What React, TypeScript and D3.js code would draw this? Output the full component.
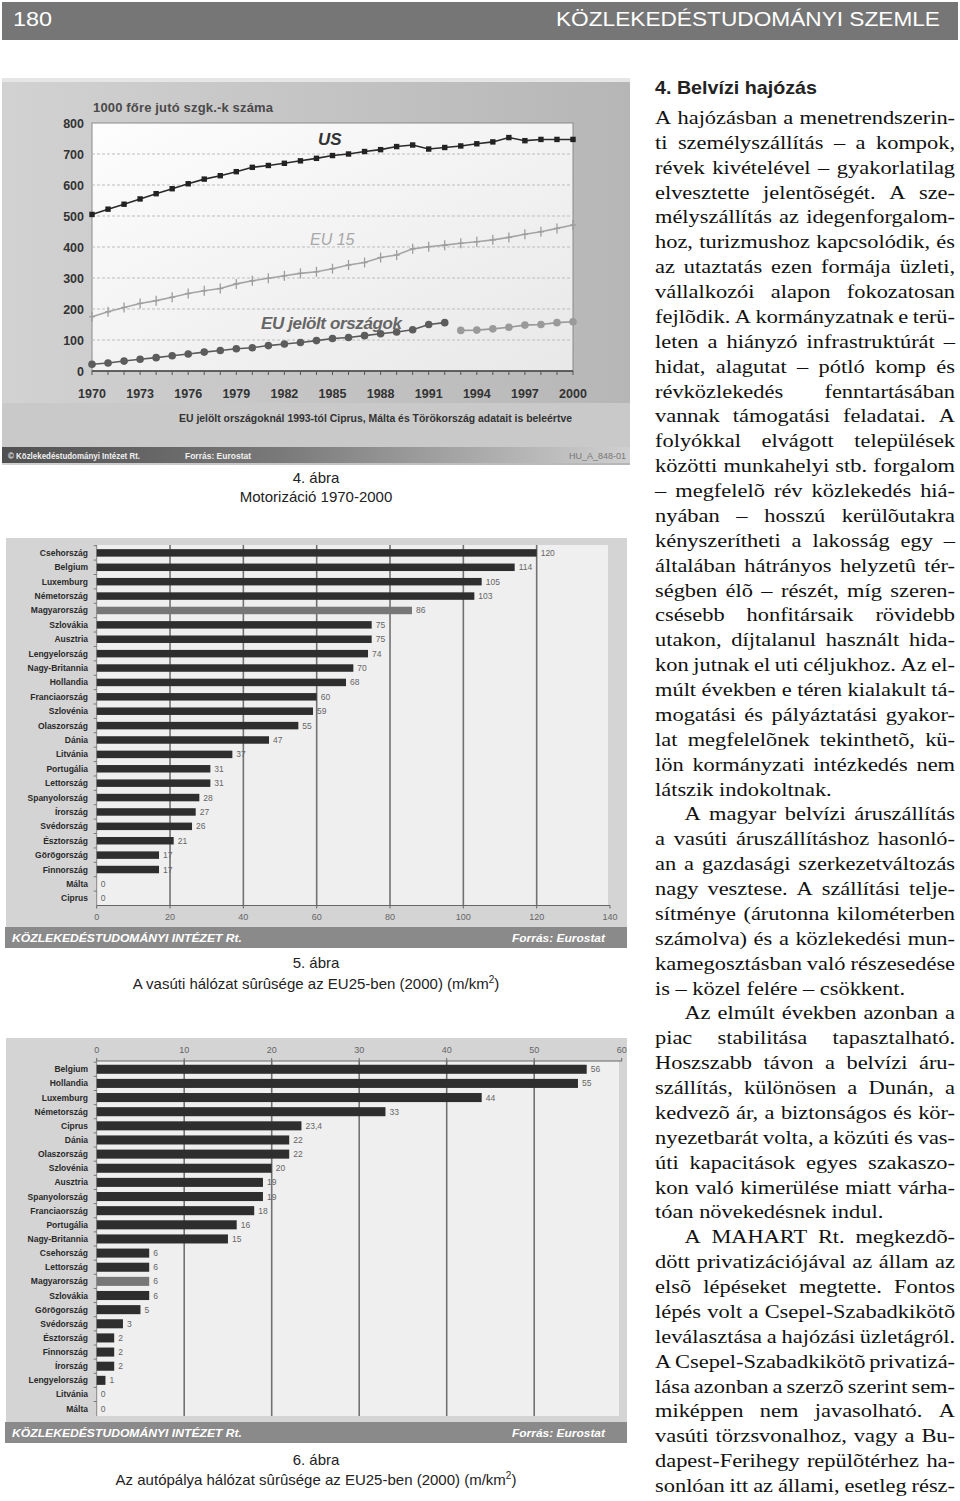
import React from 'react';
import * as d3 from 'd3';

// ---------- Chart 4 data (Motorizáció) ----------
const years = [1970,1971,1972,1973,1974,1975,1976,1977,1978,1979,1980,1981,1982,1983,1984,1985,1986,1987,1988,1989,1990,1991,1992,1993,1994,1995,1996,1997,1998,1999,2000];
const usValues = [505,522,538,555,572,588,604,619,630,643,657,663,670,678,686,695,700,708,714,724,729,716,721,726,733,739,753,743,747,747,747];
const eu15Values = [175,191,205,218,227,238,250,259,266,281,291,299,307,315,320,330,342,350,366,374,394,401,406,412,417,423,431,441,449,460,471];
const candYearsA = [1970,1971,1972,1973,1974,1975,1976,1977,1978,1979,1980,1981,1982,1983,1984,1985,1986,1987,1988,1989,1990,1991,1992];
const candValuesA = [22,26,32,38,43,49,55,61,66,72,75,82,87,92,98,105,108,114,120,126,133,150,156];
const candYearsB = [1993,1994,1995,1996,1997,1998,1999,2000];
const candValuesB = [131,132,136,141,148,150,156,159];
const yTicks4 = [0,100,200,300,400,500,600,700,800];
const gridTicks4 = [100,200,300,400,500,600,700];
const xTickYears4 = [1970,1973,1976,1979,1982,1985,1988,1991,1994,1997,2000];

// ---------- Chart 5 data (vasúti hálózat) ----------
const railCountries = ['Csehország','Belgium','Luxemburg','Németország','Magyarország','Szlovákia','Ausztria','Lengyelország','Nagy-Britannia','Hollandia','Franciaország','Szlovénia','Olaszország','Dánia','Litvánia','Portugália','Lettország','Spanyolország','Írország','Svédország','Észtország','Görögország','Finnország','Málta','Ciprus'];
const railValues = [120,114,105,103,86,75,75,74,70,68,60,59,55,47,37,31,31,28,27,26,21,17,17,0,0];
const railTicks = [0,20,40,60,80,100,120,140];

// ---------- Chart 6 data (autópálya hálózat) ----------
const mwCountries = ['Belgium','Hollandia','Luxemburg','Németország','Ciprus','Dánia','Olaszország','Szlovénia','Ausztria','Spanyolország','Franciaország','Portugália','Nagy-Britannia','Csehország','Lettország','Magyarország','Szlovákia','Görögország','Svédország','Észtország','Finnország','Írország','Lengyelország','Litvánia','Málta'];
const mwValues = [56,55,44,33,23.4,22,22,20,19,19,18,16,15,6,6,6,6,5,3,2,2,2,1,0,0];
const mwTicks = [0,10,20,30,40,50,60];

// ---------- Text column ----------
const bodyLines = [
  'A hajózásban a menetrendszerin-',
  'ti személyszállítás – a kompok,',
  'révek kivételével – gyakorlatilag',
  'elvesztette jelentõségét. A sze-',
  'mélyszállítás az idegenforgalom-',
  'hoz, turizmushoz kapcsolódik, és',
  'az utaztatás ezen formája üzleti,',
  'vállalkozói alapon fokozatosan',
  'fejlõdik. A kormányzatnak e terü-',
  'leten a hiányzó infrastruktúrát –',
  'hidat, alagutat – pótló komp és',
  'révközlekedés fenntartásában',
  'vannak támogatási feladatai. A',
  'folyókkal elvágott települések',
  'közötti munkahelyi stb. forgalom',
  '– megfelelõ rév közlekedés hiá-',
  'nyában – hosszú kerülõutakra',
  'kényszerítheti a lakosság egy –',
  'általában hátrányos helyzetû tér-',
  'ségben élõ – részét, míg szeren-',
  'csésebb honfitársaik rövidebb',
  'utakon, díjtalanul használt hida-',
  'kon jutnak el uti céljukhoz. Az el-',
  'múlt években e téren kialakult tá-',
  'mogatási és pályáztatási gyakor-',
  'lat megfelelõnek tekinthetõ, kü-',
  'lön kormányzati intézkedés nem',
  'látszik indokoltnak.',
  'A magyar belvízi áruszállítás',
  'a vasúti áruszállításhoz hasonló-',
  'an a gazdasági szerkezetváltozás',
  'nagy vesztese. A szállítási telje-',
  'sítménye (árutonna kilométerben',
  'számolva) és a közlekedési mun-',
  'kamegosztásban való részesedése',
  'is – közel felére – csökkent.',
  'Az elmúlt években azonban a',
  'piac stabilitása tapasztalható.',
  'Hoszszabb távon a belvízi áru-',
  'szállítás, különösen a Dunán, a',
  'kedvezõ ár, a biztonságos és kör-',
  'nyezetbarát volta, a közúti és vas-',
  'úti kapacitások egyes szakaszo-',
  'kon való kimerülése miatt várha-',
  'tóan növekedésnek indul.',
  'A MAHART Rt. megkezdõ-',
  'dött privatizációjával az állam az',
  'elsõ lépéseket megtette. Fontos',
  'lépés volt a Csepel-Szabadkikötõ',
  'leválasztása a hajózási üzletágról.',
  'A Csepel-Szabadkikötõ privatizá-',
  'lása azonban a szerzõ szerint sem-',
  'miképpen nem javasolható. A',
  'vasúti törzsvonalhoz, vagy a Bu-',
  'dapest-Ferihegy repülõtérhez ha-',
  'sonlóan itt az állami, esetleg rész-',
];
const paraStarts = [28, 36, 45];
const paraEnds = [27, 35, 44];

const SANS = 'Arial, "Liberation Sans", Helvetica, sans-serif';
const SERIF = '"Liberation Serif", "Times New Roman", serif';
const TXT_FS = 18.3;
const TXT_SX = 1.225;
const COL_W = 300 / TXT_SX;
const INDENT = 24;

let ctx: CanvasRenderingContext2D | null = null;
function measure(s: string): number {
  if (!ctx) ctx = document.createElement('canvas').getContext('2d');
  if (!ctx) return s.length * TXT_FS * 0.45;
  ctx.font = `${TXT_FS}px "Liberation Serif"`;
  return ctx.measureText(s).width;
}

function LineChart() {
  const x = d3.scaleLinear().domain([1970, 2000]).range([92, 573]);
  const y = d3.scaleLinear().domain([0, 800]).range([371, 123]);
  const line = d3.line<[number, number]>().x(d => x(d[0])).y(d => y(d[1]));
  const us = years.map((yr, i) => [yr, usValues[i]] as [number, number]);
  const eu = years.map((yr, i) => [yr, eu15Values[i]] as [number, number]);
  const ca = candYearsA.map((yr, i) => [yr, candValuesA[i]] as [number, number]);
  const cb = candYearsB.map((yr, i) => [yr, candValuesB[i]] as [number, number]);
  return (
    <g>
      <defs>
        <linearGradient id="bg4" x1="0" x2="1" y1="0" y2="0">
          <stop offset="0" stopColor="#d2d2d2" />
          <stop offset="1" stopColor="#b6b6b6" />
        </linearGradient>
        <linearGradient id="plot4" x1="0" x2="1" y1="0" y2="1">
          <stop offset="0" stopColor="#fdfdfd" />
          <stop offset="1" stopColor="#e8e8e8" />
        </linearGradient>
        <linearGradient id="band4" x1="0" x2="1" y1="0" y2="0">
          <stop offset="0" stopColor="#505050" />
          <stop offset="0.45" stopColor="#7a7a7a" />
          <stop offset="1" stopColor="#d0d0d0" />
        </linearGradient>
      </defs>
      <rect x={2} y={78} width={628} height={387} fill="url(#bg4)" />
      <rect x={2} y={78} width={628} height={4} fill="#e6e6e6" />
      <rect x={2} y={403} width={628} height={44} fill="#c9c9c9" />
      <rect x={2} y={447} width={628} height={16} fill="url(#band4)" />
      <rect x={x(1970)} y={y(800)} width={x(2000) - x(1970)} height={y(0) - y(800)} fill="url(#plot4)" stroke="#8a8a8a" strokeWidth={1} />
      <text x={93} y={112} fontFamily={SANS} fontWeight="bold" fontSize={13} fill="#4a4a4a" textLength={180}>1000 főre jutó szgk.-k száma</text>
      {gridTicks4.map(t => (
        <line key={t} x1={x(1970)} x2={x(2000)} y1={y(t)} y2={y(t)} stroke="#bdbdbd" strokeWidth={1} strokeDasharray="3,2" />
      ))}
      {yTicks4.map(t => (
        <text key={t} x={84} y={y(t) + 4.5} textAnchor="end" fontFamily={SANS} fontWeight="bold" fontSize={12.5} fill="#333">{t}</text>
      ))}
      <line x1={x(1970)} x2={x(2000)} y1={y(0)} y2={y(0)} stroke="#444" strokeWidth={1.5} />
      {years.map(yr => (
        <line key={yr} x1={x(yr)} x2={x(yr)} y1={y(0)} y2={y(0) + 4} stroke="#555" strokeWidth={1} />
      ))}
      {xTickYears4.map(yr => (
        <text key={yr} x={x(yr)} y={398} textAnchor="middle" fontFamily={SANS} fontWeight="bold" fontSize={12.5} fill="#333">{yr}</text>
      ))}
      {/* EU 15 */}
      <path d={line(eu) || ''} fill="none" stroke="#a5a5a5" strokeWidth={1.6} />
      {eu.map(d => (
        <g key={d[0]} stroke="#9d9d9d" strokeWidth={1.3}>
          <line x1={x(d[0])} x2={x(d[0])} y1={y(d[1]) - 5} y2={y(d[1]) + 5} />
          <line x1={x(d[0]) - 3} x2={x(d[0]) + 3} y1={y(d[1])} y2={y(d[1])} />
        </g>
      ))}
      {/* US */}
      <path d={line(us) || ''} fill="none" stroke="#2a2a2a" strokeWidth={1.6} />
      {us.map(d => (
        <rect key={d[0]} x={x(d[0]) - 2.7} y={y(d[1]) - 2.7} width={5.4} height={5.4} fill="#222" />
      ))}
      {/* EU candidates */}
      <path d={line(ca) || ''} fill="none" stroke="#5a5a5a" strokeWidth={1.6} />
      {ca.map(d => (
        <circle key={d[0]} cx={x(d[0])} cy={y(d[1])} r={3.8} fill="#5c5c5c" />
      ))}
      <path d={line(cb) || ''} fill="none" stroke="#999" strokeWidth={1.6} />
      {cb.map(d => (
        <circle key={d[0]} cx={x(d[0])} cy={y(d[1])} r={3.8} fill="#9a9a9a" />
      ))}
      <text x={318} y={145} fontFamily={SANS} fontWeight="bold" fontStyle="italic" fontSize={17} fill="#333">US</text>
      <text x={310} y={245} fontFamily={SANS} fontStyle="italic" fontSize={16} fill="#a8a8a8">EU 15</text>
      <text x={261} y={329} fontFamily={SANS} fontWeight="bold" fontStyle="italic" fontSize={17} fill="#666" textLength={141}>EU jelölt országok</text>
      <text x={179} y={422} fontFamily={SANS} fontWeight="bold" fontSize={10} fill="#333" textLength={393} lengthAdjust="spacingAndGlyphs">EU jelölt országoknál 1993-tól Ciprus, Málta és Törökország adatait is beleértve</text>
      <text x={8} y={459} fontFamily={SANS} fontWeight="bold" fontSize={9} fill="#f0f0f0" textLength={132} lengthAdjust="spacingAndGlyphs">© Közlekedéstudományi Intézet Rt.</text>
      <text x={185} y={459} fontFamily={SANS} fontWeight="bold" fontSize={9} fill="#f0f0f0" textLength={66} lengthAdjust="spacingAndGlyphs">Forrás: Eurostat</text>
      <text x={626} y={459} textAnchor="end" fontFamily={SANS} fontSize={9} fill="#777">HU_A_848-01</text>
    </g>
  );
}

type BarProps = {
  countries: string[]; values: number[]; ticks: number[]; domainMax: number;
  top: number; bottom: number; xRight: number; plotRight: number; bandTop: number;
  rangeStart: number; rangeEnd: number; padding: number; topAxis: boolean; fmt: (v: number) => string;
};

function BarChart(p: BarProps) {
  const x = d3.scaleLinear().domain([0, p.domainMax]).range([96.7, p.xRight]);
  const y = d3.scaleBand<string>().domain(p.countries).range([p.rangeStart, p.rangeEnd]).paddingInner(p.padding).paddingOuter(p.padding / 2);
  const bw = y.bandwidth();
  const axisY = p.topAxis ? p.top : p.bottom;
  const panelTop = p.top - (p.topAxis ? 23 : 7);
  return (
    <g>
      <rect x={6} y={panelTop} width={621} height={p.bandTop - panelTop} fill="#d4d4d4" />
      <rect x={97} y={p.top} width={p.plotRight - 97} height={p.bottom - p.top} fill="#efefef" />
      {p.ticks.filter(t => t > 0 && t < p.domainMax).map(t => (
        <line key={t} x1={x(t)} x2={x(t)} y1={p.top} y2={p.bottom} stroke="#727272" strokeWidth={1.6} />
      ))}
      <line x1={x(0)} x2={x(p.domainMax)} y1={axisY} y2={axisY} stroke="#666" strokeWidth={1.2} />
      <line x1={x(0)} x2={x(0)} y1={p.top} y2={p.bottom} stroke="#888" strokeWidth={1} />
      {p.ticks.map(t => (
        <g key={t}>
          <line x1={x(t)} x2={x(t)} y1={axisY} y2={axisY + (p.topAxis ? -3 : 3)} stroke="#666" />
          <text x={x(t)} y={p.topAxis ? p.top - 8 : p.bottom + 14} textAnchor="middle" fontFamily={SANS} fontSize={9} fill="#666">{t}</text>
        </g>
      ))}
      {p.countries.map((c, i) => {
        const yy = y(c) as number;
        return (
          <g key={c}>
            <line x1={x(0) - 3} x2={x(0)} y1={yy - (y.step() - bw) / 2} y2={yy - (y.step() - bw) / 2} stroke="#777" />
            <text x={88} y={yy + bw / 2 + 3} textAnchor="end" fontFamily={SANS} fontWeight="bold" fontSize={8.5} fill="#2a2a2a">{c}</text>
            <rect x={x(0)} y={yy} width={Math.max(0, x(p.values[i]) - x(0))} height={bw} fill={c === 'Magyarország' ? '#777' : '#2e2e2e'} />
            <text x={x(p.values[i]) + 4} y={yy + bw / 2 + 3} fontFamily={SANS} fontSize={8.5} fill="#666">{p.fmt(p.values[i])}</text>
          </g>
        );
      })}
      <rect x={5} y={p.bandTop} width={622} height={21} fill="#8a8a8a" />
      <text x={12} y={p.bandTop + 15} fontFamily={SANS} fontWeight="bold" fontStyle="italic" fontSize={11} fill="#fff" textLength={230} lengthAdjust="spacingAndGlyphs">KÖZLEKEDÉSTUDOMÁNYI INTÉZET Rt.</text>
      <text x={512} y={p.bandTop + 15} fontFamily={SANS} fontWeight="bold" fontStyle="italic" fontSize={11} fill="#fff" textLength={93} lengthAdjust="spacingAndGlyphs">Forrás: Eurostat</text>
    </g>
  );
}

function TextColumn() {
  const yLine = d3.scaleLinear().domain([0, bodyLines.length - 1]).range([124, 1492]);
  const space = measure(' ');
  return (
    <g>
      <text x={655} y={94} fontFamily={SANS} fontWeight="bold" fontSize={19} fill="#222" textLength={162} lengthAdjust="spacingAndGlyphs">4. Belvízi hajózás</text>
      <g transform={`translate(655,0) scale(${TXT_SX},1)`}>
        {bodyLines.map((t, i) => {
          const indent = paraStarts.includes(i) ? INDENT : 0;
          const justify = !paraEnds.includes(i);
          const words = t.split(' ');
          const widths = words.map(w => measure(w));
          const sum = d3.sum(widths);
          const gap = justify && words.length > 1 ? (COL_W - indent - sum) / (words.length - 1) : space;
          let cx = indent;
          const xs = widths.map(w => { const v = cx; cx += w + gap; return v; });
          return (
            <text key={i} y={yLine(i)} fontFamily={SERIF} fontSize={TXT_FS} fill="#111">
              {words.map((w, j) => <tspan key={j} x={xs[j]}>{w}</tspan>)}
            </text>
          );
        })}
      </g>
    </g>
  );
}

export default function App() {
  return (
    <svg width={960} height={1501} viewBox="0 0 960 1501" style={{ position: 'absolute', left: 0, top: 0, background: '#fff' }}>
      <rect x={0} y={0} width={960} height={1501} fill="#fff" />
      <rect x={2} y={2} width={956} height={38} fill="#767676" />
      <text x={13} y={26} fontFamily={SANS} fontSize={20} fill="#fff" textLength={39} lengthAdjust="spacingAndGlyphs">180</text>
      <text x={556} y={26} fontFamily={SANS} fontSize={20} fill="#fff" textLength={384} lengthAdjust="spacingAndGlyphs">KÖZLEKEDÉSTUDOMÁNYI SZEMLE</text>
      <LineChart />
      <text x={316} y={483} textAnchor="middle" fontFamily={SANS} fontSize={15} fill="#222">4. ábra</text>
      <text x={316} y={502} textAnchor="middle" fontFamily={SANS} fontSize={15} fill="#222">Motorizáció 1970-2000</text>
      <BarChart countries={railCountries} values={railValues} ticks={railTicks} domainMax={140}
        top={545} bottom={905.5} xRight={610} plotRight={608} bandTop={927}
        rangeStart={545.7} rangeEnd={905.5} padding={0.48} topAxis={false} fmt={v => String(v)} />
      <text x={316} y={968} textAnchor="middle" fontFamily={SANS} fontSize={15} fill="#222">5. ábra</text>
      <text x={316} y={989} textAnchor="middle" fontFamily={SANS} fontSize={15} fill="#222">A vasúti hálózat sûrûsége az EU25-ben (2000) (m/km<tspan dy={-6} fontSize={10}>2</tspan><tspan dy={6}>)</tspan></text>
      <BarChart countries={mwCountries} values={mwValues} ticks={mwTicks} domainMax={60}
        top={1061} bottom={1416} xRight={621.7} plotRight={619} bandTop={1422}
        rangeStart={1062.2} rangeEnd={1415.7} padding={0.36} topAxis={true} fmt={v => String(v).replace('.', ',')} />
      <text x={316} y={1465} textAnchor="middle" fontFamily={SANS} fontSize={15} fill="#222">6. ábra</text>
      <text x={316} y={1485} textAnchor="middle" fontFamily={SANS} fontSize={15} fill="#222">Az autópálya hálózat sûrûsége az EU25-ben (2000) (m/km<tspan dy={-6} fontSize={10}>2</tspan><tspan dy={6}>)</tspan></text>
      <TextColumn />
    </svg>
  );
}
